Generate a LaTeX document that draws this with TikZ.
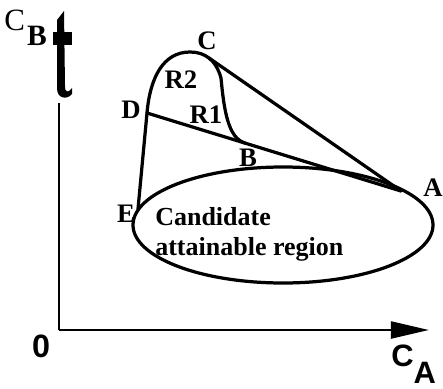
\documentclass[tikz,border=0pt]{standalone}
\usepackage{fontspec}
\setmainfont{Liberation Serif}
\setsansfont{Liberation Sans}
\usetikzlibrary{arrows.meta}

\begin{document}
\begin{tikzpicture}[x=0.025cm,y=-0.025cm,bound/.style={line width=2.3pt, line join=round, line cap=round},axisline/.style={line width=2pt},ptlabel/.style={font=\fontsize{19}{22}\selectfont\bfseries, inner sep=0pt},axlabel/.style={font=\sffamily\bfseries\fontsize{22}{24}\selectfont, inner sep=0pt},region/.style={font=\fontsize{18.5}{21.5}\selectfont\bfseries, align=left, inner sep=0pt}]
\useasboundingbox (0,0) rectangle (443,389);
% axes
\coordinate (O) at (59,330); \coordinate (xend) at (429,330); \coordinate (ytop) at (59,103);
\draw[axisline, -{Triangle[length=0.95cm, width=0.42cm]}] (O) -- (xend); \draw[axisline, line width=1.5pt] (O) -- (ytop);
\fill (57,20) -- (64,11) -- (65,86) .. controls (65,93) and (68,93) .. (72,88) -- (72,94) .. controls (67,100) and (57,99) .. (57,88) -- cycle;
\fill (53,32) rectangle (72,45);
\node[axlabel, font=\sffamily\bfseries\fontsize{23}{24}\selectfont] (zero) at (41,346) {0};
\node[axlabel, anchor=west] (cA) at (391,364) {C\raisebox{-12pt}{A}};
\node[ptlabel, anchor=west] (cB) at (4,28) {\mdseries\fontsize{22}{24}\selectfont C\hspace{1.5pt}\raisebox{-11pt}{\bfseries\fontsize{21}{24}\selectfont B}};
% candidate region
\node[region, anchor=west] (cand) at (155,234) {Candidate\\attainable region};
\draw[bound] (283,225) ellipse [x radius=150, y radius=58];
\coordinate (A) at (401,191); \coordinate (B) at (245,143); \coordinate (C) at (209,58);
\coordinate (D) at (147,113); \coordinate (E) at (138,209); \coordinate (T) at (190,52); \coordinate (K) at (221,78);
\draw[bound] (E) -- (D) .. controls (150,78) and (163,52) .. (T) .. controls (205,52) and (216,60) .. (K) .. controls (224,110) and (228,138) .. (B);
\draw[bound] (D) -- (A); \draw[bound] (C) -- (A);
\node[ptlabel] (lA) at (433,188) {A}; \node[ptlabel] (lB) at (248,158) {B};
\node[ptlabel] (lC) at (207,41) {C}; \node[ptlabel] (lD) at (131,110) {D};
\node[ptlabel] (lE) at (126,214) {E};
\node[ptlabel] (lR2) at (181,80) {R2}; \node[ptlabel] (lR1) at (206,115) {R1};
\end{tikzpicture}
\end{document}
